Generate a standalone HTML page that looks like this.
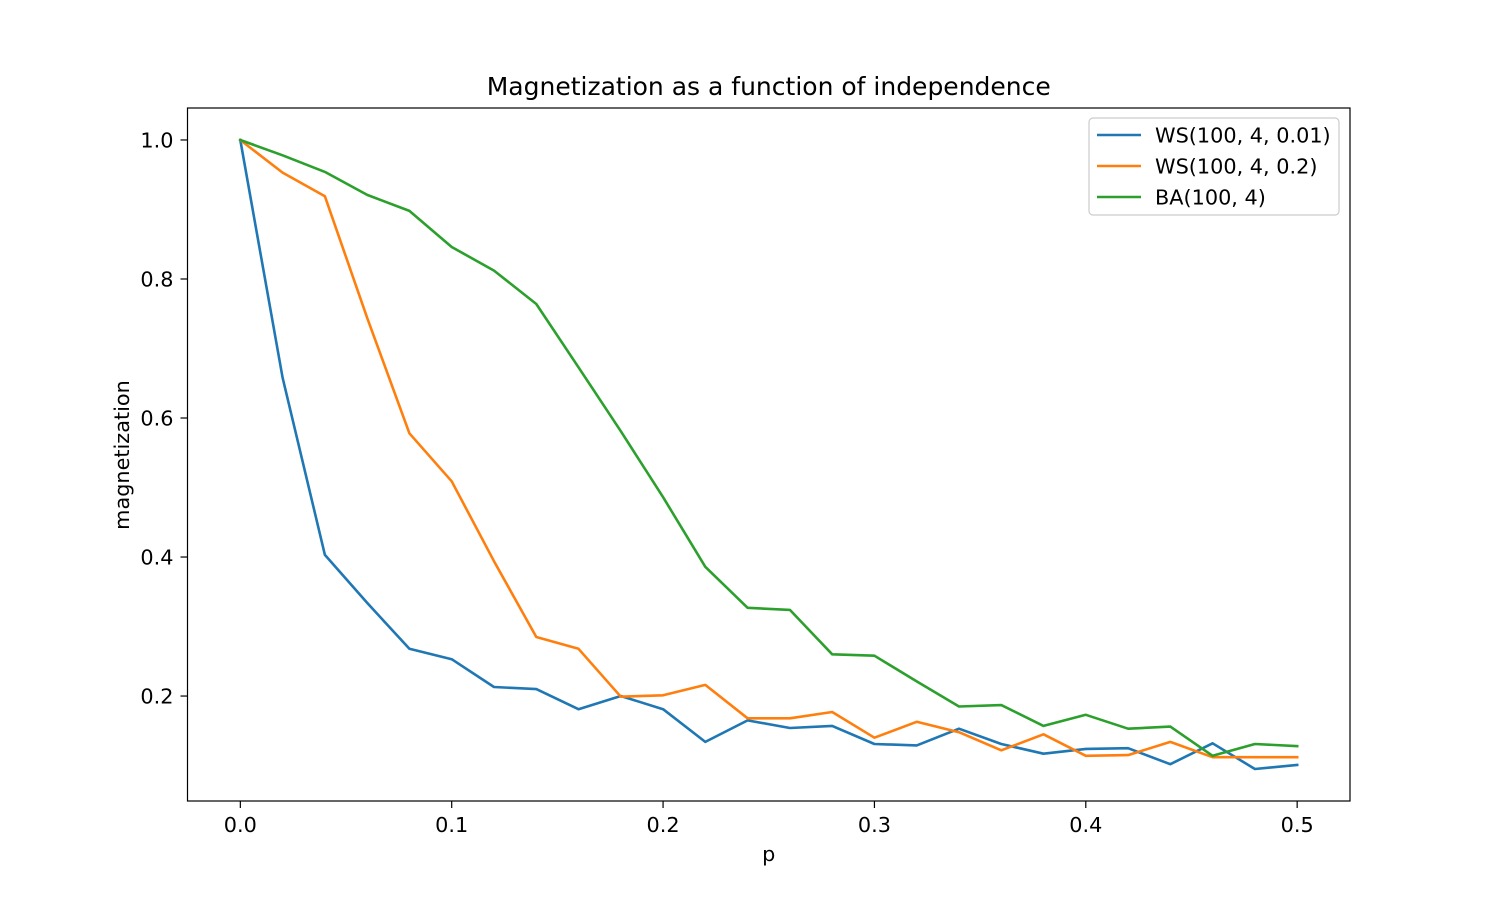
<!DOCTYPE html>
<html><head><meta charset="utf-8"><style>
html,body{margin:0;padding:0;background:#fff}
svg{display:block;font-family:"DejaVu Sans","Liberation Sans",sans-serif}
</style></head><body>
<svg id="chart" width="1500" height="900"></svg>
<script>
const pValues=[0,0.02,0.04,0.06,0.08,0.1,0.12,0.14,0.16,0.18,0.2,0.22,0.24,0.26,0.28,0.3,0.32,0.34,0.36,0.38,0.4,0.42,0.44,0.46,0.48,0.5];
const wsLow=[1.0,0.658,0.403,0.334,0.268,0.253,0.213,0.21,0.181,0.2,0.181,0.134,0.165,0.154,0.157,0.131,0.129,0.153,0.131,0.117,0.124,0.125,0.102,0.132,0.095,0.101];
const wsHigh=[1.0,0.953,0.919,0.744,0.578,0.509,0.394,0.285,0.268,0.199,0.201,0.216,0.168,0.168,0.177,0.14,0.163,0.148,0.122,0.145,0.114,0.115,0.134,0.112,0.112,0.112];
const ba=[1.0,0.978,0.954,0.921,0.898,0.846,0.812,0.764,0.673,0.581,0.486,0.386,0.327,0.324,0.26,0.258,0.221,0.185,0.187,0.157,0.173,0.153,0.156,0.114,0.131,0.128];
const xTicks=[0,0.1,0.2,0.3,0.4,0.5];
const xTickLabels=["0.0","0.1","0.2","0.3","0.4","0.5"];
const yTicks=[0.2,0.4,0.6,0.8,1.0];
const yTickLabels=["0.2","0.4","0.6","0.8","1.0"];
const seriesNames=["WS(100, 4, 0.01)","WS(100, 4, 0.2)","BA(100, 4)"];
const seriesColors=["#1f77b4","#ff7f0e","#2ca02c"];

const L=187.5,R=1350,T=108,B=801;
const xMin=-0.025,xMax=0.525,yMin=0.049,yMax=1.046;
const xs=v=>L+(v-xMin)/(xMax-xMin)*(R-L);
const ys=v=>B-(v-yMin)/(yMax-yMin)*(B-T);
const svg=document.getElementById('chart');
const NS='http://www.w3.org/2000/svg';
function mk(tag,attrs,parent,text){const e=document.createElementNS(NS,tag);for(const k in attrs)e.setAttribute(k,attrs[k]);if(text!==undefined)e.textContent=text;(parent||svg).appendChild(e);return e;}

const series=[wsLow,wsHigh,ba];
series.forEach((s,i)=>{
  const d=s.map((v,j)=>(j?'L':'M')+xs(pValues[j]).toFixed(1)+','+ys(v).toFixed(1)).join('');
  const p=mk('path',{d:d,fill:'none',stroke:seriesColors[i],'stroke-width':2.6,'stroke-linejoin':'round','stroke-linecap':'square'});
  
  
});
const frame=mk('rect',{x:L,y:T,width:R-L,height:B-T,fill:'none',stroke:'#000','stroke-width':1.2});



xTicks.forEach((v,i)=>{
  const x=xs(v);
  mk('line',{x1:x,x2:x,y1:B,y2:B+7,stroke:'#000','stroke-width':1.2});
  const t=mk('text',{x:x,y:B+31,'text-anchor':'middle','font-size':20.8},svg,xTickLabels[i]);
  
  
});
yTicks.forEach((v,i)=>{
  const y=ys(v);
  mk('line',{x1:L-7,x2:L,y1:y,y2:y,stroke:'#000','stroke-width':1.2});
  const t=mk('text',{x:L-14,y:y+7.5,'text-anchor':'end','font-size':20.8},svg,yTickLabels[i]);
  
  
});
const xt=mk('text',{x:(L+R)/2,y:861,'text-anchor':'middle','font-size':20.8},svg,'p');


const yt=mk('text',{x:0,y:0,transform:'translate(129,455) rotate(-90)','text-anchor':'middle','font-size':20.8},svg,'magnetization');


const tt=mk('text',{x:(L+R)/2,y:95,'text-anchor':'middle','font-size':25},svg,'Magnetization as a function of independence');



const lg=mk('g',{});


mk('rect',{x:1089,y:118,width:250,height:97,rx:4,fill:'#fff','fill-opacity':0.8,stroke:'#ccc','stroke-width':1.2},lg);
seriesNames.forEach((n,i)=>{
  const y=135+i*31;
  const g=mk('g',{},lg);
  
  
  mk('line',{x1:1097,x2:1141,y1:y,y2:y,stroke:seriesColors[i],'stroke-width':2.6},g);
  mk('text',{x:1155,y:y+7.5,'font-size':20.8},g,n);
});
</script>
</body></html>
